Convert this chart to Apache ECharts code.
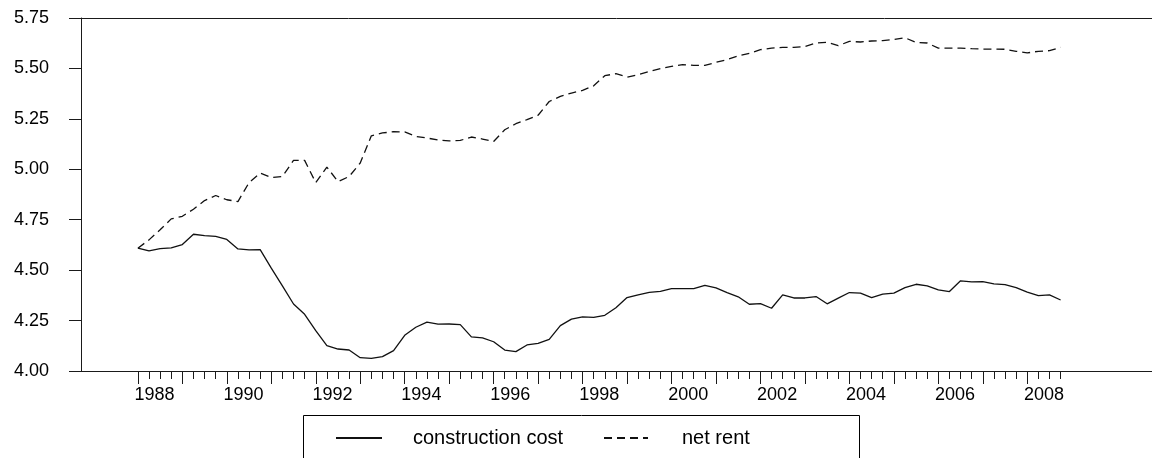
<!DOCTYPE html>
<html>
<head>
<meta charset="utf-8">
<script src="https://cdn.jsdelivr.net/npm/echarts@6/dist/echarts.min.js"></script>
<style>
html,body{margin:0;padding:0;background:#fff;}
#chart{width:1152px;height:458px;}
</style>
</head>
<body>
<div id="chart"></div>
<script>
// Quarterly periods 1988Q1 .. 2008Q4
const startYear = 1988;
const endYear = 2008;
const periods = [];
for (let y = startYear; y <= endYear; y++) for (let q = 1; q <= 4; q++) periods.push(y + 'Q' + q);

const constructionCost = [
  4.609, 4.596, 4.607, 4.610, 4.627, 4.678, 4.671, 4.667, 4.652, 4.605, 4.600, 4.602,
  4.510, 4.422, 4.332, 4.281, 4.200, 4.126, 4.109, 4.104, 4.066, 4.063, 4.071, 4.101,
  4.177, 4.217, 4.242, 4.232, 4.233, 4.230, 4.169, 4.164, 4.145, 4.104, 4.096, 4.129,
  4.137, 4.157, 4.225, 4.257, 4.268, 4.266, 4.276, 4.314, 4.364, 4.377, 4.390, 4.395,
  4.408, 4.408, 4.408, 4.425, 4.412, 4.389, 4.368, 4.331, 4.334, 4.311, 4.377, 4.362,
  4.362, 4.369, 4.333, 4.361, 4.389, 4.386, 4.364, 4.381, 4.386, 4.413, 4.430, 4.422,
  4.402, 4.394, 4.447, 4.442, 4.443, 4.432, 4.428, 4.413, 4.391, 4.374, 4.377, 4.352
];

const netRent = [
  4.609, 4.650, 4.700, 4.754, 4.767, 4.802, 4.845, 4.870, 4.849, 4.840, 4.934, 4.981,
  4.959, 4.964, 5.044, 5.044, 4.934, 5.011, 4.939, 4.964, 5.031, 5.166, 5.180, 5.186,
  5.185, 5.163, 5.155, 5.145, 5.141, 5.143, 5.160, 5.150, 5.138, 5.196, 5.226, 5.246,
  5.268, 5.336, 5.361, 5.378, 5.391, 5.414, 5.464, 5.474, 5.457, 5.469, 5.485, 5.499,
  5.510, 5.519, 5.515, 5.515, 5.530, 5.544, 5.563, 5.575, 5.593, 5.601, 5.604, 5.604,
  5.609, 5.626, 5.629, 5.613, 5.634, 5.631, 5.636, 5.638, 5.643, 5.652, 5.629, 5.626,
  5.601, 5.601, 5.601, 5.598, 5.596, 5.596, 5.595, 5.585, 5.577, 5.585, 5.588, 5.605
];

const yTicks = ['4.00', '4.25', '4.50', '4.75', '5.00', '5.25', '5.50', '5.75'];
const yearLabels = [1988, 1990, 1992, 1994, 1996, 1998, 2000, 2002, 2004, 2006, 2008];
const seriesNames = ['construction cost', 'net rent'];

function periodToX(p) {
  const y = parseInt(p.slice(0, 4), 10);
  const q = parseInt(p.slice(5), 10);
  return y + (q - 1) / 4;
}
const xs = periods.map(periodToX);
const quarterTicks = xs.slice();
const yearTicks = xs.filter((v, i) => periods[i].endsWith('Q1'));
const labelPos = yearLabels.map(y => y + 0.375);

const FONT = '"Liberation Sans", Arial, Helvetica, sans-serif';
const AX = '#1a1a1a';
const xMin = 1986.721, xMax = 2010.805;

const chart = echarts.init(document.getElementById('chart'), null, {renderer: 'canvas'});
chart.setOption({
  animation: false,
  backgroundColor: '#fff',
  grid: {left: 81, top: 18, right: -40, bottom: 87, containLabel: false},
  xAxis: [
    {
      type: 'value', position: 'bottom', min: xMin, max: xMax,
      axisLine: {show: true, lineStyle: {color: AX, width: 1}},
      axisTick: {show: true, customValues: quarterTicks, length: 8, lineStyle: {color: AX, width: 1}},
      axisLabel: {
        show: true, customValues: labelPos, margin: 15,
        formatter: v => String(Math.round(v - 0.375)),
        color: '#000', fontFamily: FONT, fontSize: 18
      },
      splitLine: {show: false}
    },
    {
      type: 'value', position: 'bottom', min: xMin, max: xMax,
      axisLine: {show: false},
      axisTick: {show: true, customValues: yearTicks, length: 13, lineStyle: {color: AX, width: 1}},
      axisLabel: {show: false},
      splitLine: {show: false}
    },
    {
      type: 'value', position: 'top', min: xMin, max: xMax,
      axisLine: {show: true, lineStyle: {color: AX, width: 1}},
      axisTick: {show: false}, axisLabel: {show: false}, splitLine: {show: false}
    }
  ],
  yAxis: {
    type: 'value', min: 4, max: 5.75, interval: 0.25,
    axisLine: {show: true, lineStyle: {color: AX, width: 1}},
    axisTick: {show: true, inside: false, length: 12, lineStyle: {color: AX, width: 1}},
    axisLabel: {
      margin: 32, color: '#000', fontFamily: FONT, fontSize: 18,
      formatter: v => yTicks[Math.round((v - 4) / 0.25)]
    },
    splitLine: {show: false}
  },
  legend: [
    {
      data: [seriesNames[0]], left: 330, top: 423, itemWidth: 46, itemHeight: 14,
      itemStyle: {opacity: 0},
      textStyle: {color: '#000', fontFamily: FONT, fontSize: 20, padding: [0, 0, 0, 26]},
      selectedMode: false
    },
    {
      data: [seriesNames[1]], left: 598, top: 423, itemWidth: 44, itemHeight: 14,
      itemStyle: {opacity: 0},
      textStyle: {color: '#000', fontFamily: FONT, fontSize: 20, padding: [0, 0, 0, 29]},
      selectedMode: false
    }
  ],
  graphic: [
    {
      type: 'rect', silent: true,
      shape: {x: 303.5, y: 415.5, width: 556, height: 60},
      style: {fill: 'none', stroke: '#000', lineWidth: 1}
    }
  ],
  series: [
    {
      name: seriesNames[0], type: 'line', xAxisIndex: 0,
      data: xs.map((x, i) => [x, constructionCost[i]]),
      symbol: 'none', showSymbol: false,
      lineStyle: {color: '#111', width: 1.3, type: 'solid'},
      itemStyle: {color: '#111'}
    },
    {
      name: seriesNames[1], type: 'line', xAxisIndex: 0,
      data: xs.map((x, i) => [x, netRent[i]]),
      symbol: 'none', showSymbol: false,
      lineStyle: {color: '#111', width: 1.3, type: [8, 5]},
      itemStyle: {color: '#111'}
    }
  ]
});
</script>
</body>
</html>
